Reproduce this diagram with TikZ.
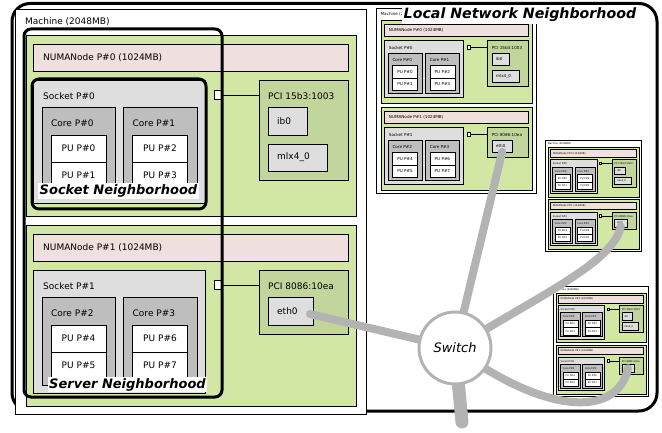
\documentclass[tikz,border=0pt]{standalone}
\usepackage{fontspec}
\setmainfont{DejaVu Sans}
\definecolor{numacol}{HTML}{D2E7A4}
\definecolor{memcol}{HTML}{EFDFDE}
\definecolor{sockcol}{HTML}{DEDEDE}
\definecolor{corecol}{HTML}{BEBEBE}
\definecolor{pcicol}{HTML}{C2D59C}
\definecolor{oscol}{HTML}{DEDEDE}
\definecolor{cablecol}{HTML}{B3B3B3}
\pgfdeclarelayer{front}
\pgfsetlayers{main,front}
\tikzset{
 lab/.style={anchor=west, inner sep=0pt, font=\fontsize{9}{10}\selectfont},
 clab/.style={anchor=center, inner sep=0pt, font=\fontsize{9}{10}\selectfont},
 box/.style={draw=black, line width=0.8pt},
 nbh/.style={draw=black, line width=3pt, rounded corners=7pt},
 nbhlab/.style={fill=white, inner sep=1.5pt, font=\fontsize{13}{15}\selectfont\bfseries\itshape},
 cable/.style={draw=cablecol, line width=8pt, line cap=round},
}
\newcommand{\numablock}[3]{%
 \begin{scope}[shift={(11,#1)}]
  \draw[box, fill=numacol] (0,0) rectangle (330,181);
  \draw[box, fill=memcol] (7,9) rectangle (322,36);
  \node[lab] (#3-mem#2) at (17,22.5) {NUMANode P\##2 (1024MB)};
  \draw[box, fill=sockcol] (7,45) rectangle (179,168);
  \node[lab] (#3-sock#2) at (17,61) {Socket P\##2};
  \foreach \c/\cx in {0/16,1/97.5}{%
   \pgfmathtruncatemacro\cn{2*#2+\c}%
   \pgfmathtruncatemacro\pa{2*\cn}%
   \pgfmathtruncatemacro\pb{2*\cn+1}%
   \draw[box, fill=corecol] (\cx,72) rectangle ++(73.5,88);
   \node[lab] (#3-core\cn) at (\cx+9,88) {Core P\#\cn};
   \draw[box, fill=white] (\cx+9,100) rectangle ++(55,27);
   \node[clab] (#3-pu\pa) at (\cx+36.5,113.5) {PU P\#\pa};
   \draw[box, fill=white] (\cx+9,127) rectangle ++(55,27);
   \node[clab] (#3-pu\pb) at (\cx+36.5,140.5) {PU P\#\pb};
  }
  \draw[box, fill=white] (188,55) rectangle (195,64);
  \draw[box] (195,60) -- (233,60);
 \end{scope}}
\newcommand{\machine}[5]{%
 \begin{scope}[shift={(#1,#2)}, scale=#3, transform shape, box/.style={draw=black, line width=#4}]
  \draw[box, fill=white] (0,0) rectangle (351,405);
  \node[lab] (#5-m) at (10,13) {Machine (2048MB)};
  \numablock{26}{0}{#5}
  \numablock{216}{1}{#5}
  \draw[box, fill=pcicol] (244,71) rectangle (333,171);
  \node[lab] (#5-pci0) at (253,87) {PCI 15b3:1003};
  \draw[box, fill=oscol] (253,98) rectangle (292,126);
  \node[lab] (#5-ib0) at (262,112) {ib0};
  \draw[box, fill=oscol] (253,135) rectangle (312,162);
  \node[lab] (#5-mlx) at (262,148.5) {mlx4\_0};
  \draw[box, fill=pcicol] (244,261) rectangle (333,325);
  \node[lab] (#5-pci1) at (253,277) {PCI 8086:10ea};
  \draw[box, fill=oscol] (253,288) rectangle (298,316);
  \node[lab] (#5-eth0) at (262,302) {eth0};
  \coordinate (#5-ethR) at (295,305);
  \coordinate (#5-ethC) at (275.5,302);
  \coordinate (#5-ethB) at (275.5,314);
 \end{scope}}
\begin{document}
\begin{tikzpicture}[x=1pt,y=-1pt]
\useasboundingbox (0,0) rectangle (662,433);
\draw[line width=3pt, rounded corners=18pt] (12,3.5) rectangle (657,411);
\machine{15}{9}{1}{0.8pt}{m}
\machine{376}{8}{0.458}{0.6pt}{ta}
\machine{545}{140}{0.275}{0.5pt}{tb}
\machine{553}{286}{0.272}{0.5pt}{tc}
\draw[nbh] (24,29) rectangle (222,397);
\draw[nbh] (32,79) rectangle (206,209);
\node[nbhlab] (servlab) at (127.5,384.5) {Server Neighborhood};
\node[nbhlab] (socklab) at (118.5,191) {Socket Neighborhood};
\node[fill=white, inner sep=2pt, font=\fontsize{14.2}{16}\selectfont\bfseries\itshape] (lnlab) at (520,15) {Local Network Neighborhood};
\begin{pgfonlayer}{front}
\node[circle, draw=cablecol, line width=3pt, fill=white, minimum size=72pt, inner sep=0pt, font=\fontsize{13}{15}\selectfont\itshape] (switch) at (455,348) {Switch};
\end{pgfonlayer}
\coordinate (uplink) at (462,422);
\draw[cable] (m-ethR) -- (switch.center);
\draw[cable] (ta-ethB) -- (switch.center);
\draw[cable] (tb-ethB) .. controls (614,262) and (540,295) .. (switch.center);
\draw[cable] (tc-ethC) .. controls (618,418) and (545,415) .. (switch.center);
\draw[cable, line width=13pt] (switch.center) -- (uplink);
\end{tikzpicture}
\end{document}
